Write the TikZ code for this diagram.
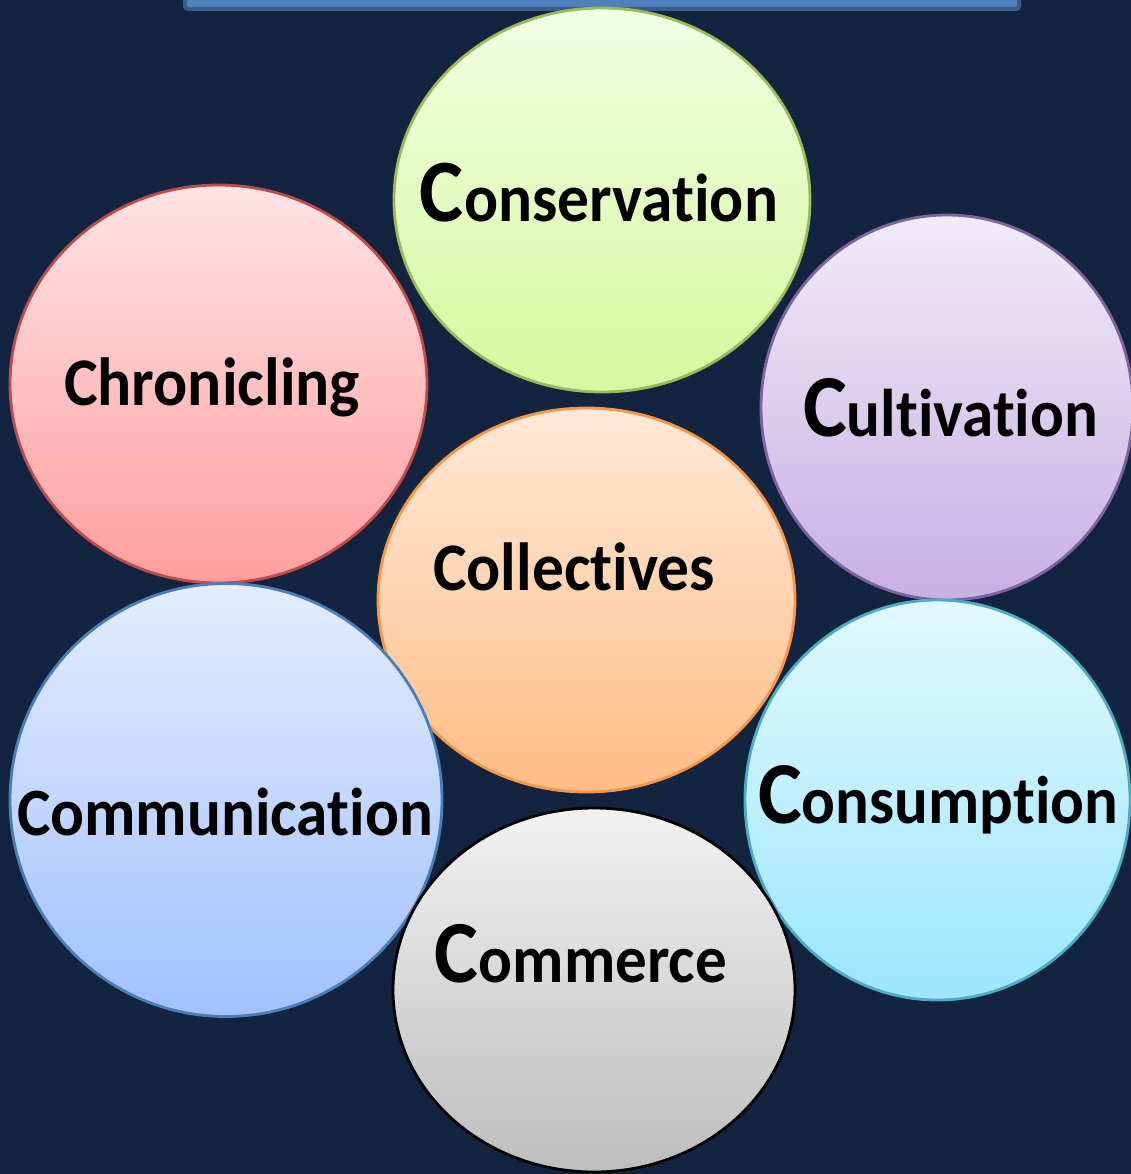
\documentclass[tikz,border=0pt]{standalone}
\usepackage{fontspec}
\setmainfont{Carlito}[Ligatures={NoCommon}]
\usepackage{graphicx}
\usetikzlibrary{shapes.geometric}
\definecolor{bg}{HTML}{12243F}
\definecolor{barfill}{HTML}{4F81BD}
\definecolor{barline}{HTML}{385D8A}
\definecolor{gTop}{HTML}{F1FFE4}
\definecolor{gBot}{HTML}{D6F99E}
\definecolor{gLine}{HTML}{9BBB59}
\definecolor{rTop}{HTML}{FFE4E6}
\definecolor{rBot}{HTML}{FF9E9E}
\definecolor{rLine}{HTML}{BE4B48}
\definecolor{pTop}{HTML}{F1EBF9}
\definecolor{pBot}{HTML}{C6B0E2}
\definecolor{pLine}{HTML}{7F63A1}
\definecolor{oTop}{HTML}{FFE9D8}
\definecolor{oBot}{HTML}{FFBD84}
\definecolor{oLine}{HTML}{F79646}
\definecolor{bTop}{HTML}{E3EDFF}
\definecolor{bBot}{HTML}{A2C1FF}
\definecolor{bLine}{HTML}{4A7EBB}
\definecolor{cTop}{HTML}{E2F9FF}
\definecolor{cBot}{HTML}{9DE6FC}
\definecolor{cLine}{HTML}{4BACC6}
\definecolor{kTop}{HTML}{F2F2F2}
\definecolor{kBot}{HTML}{BDBDBD}
\newcommand\bigC[1]{\scalebox{1}[1.07]{{\fontsize{84}{90}\selectfont C}{\fontsize{64}{70}\selectfont #1}}}
\newcommand\plainword[1]{\scalebox{1}[1.07]{\fontsize{64}{70}\selectfont #1}}
\begin{document}
\begin{tikzpicture}[x=1pt,y=-1pt,
  bubble/.style={ellipse, inner sep=0pt, line width=2.8pt},
  lbl/.style={anchor=base, inner sep=0pt, font=\bfseries, text=black}]
\useasboundingbox (0,0) rectangle (1131,1174);
\fill[bg] (0,0) rectangle (1131,1174);
% top banner (cut off)
\draw[fill=barfill, draw=barline, line width=4pt, rounded corners=3pt] (185,-20) rectangle (1019,9);
% bubbles
\node[bubble, draw=gLine, top color=gTop, bottom color=gBot, minimum width=416pt, minimum height=384pt] (conservation) at (602,200) {};
\node[bubble, draw=rLine, top color=rTop, bottom color=rBot, minimum width=417pt, minimum height=398pt] (chronicling) at (218.5,384) {};
\node[bubble, draw=pLine, top color=pTop, bottom color=pBot, minimum width=372pt, minimum height=385pt] (cultivation) at (947,407.5) {};
\node[bubble, draw=oLine, top color=oTop, bottom color=oBot, minimum width=417pt, minimum height=384pt] (collectives) at (586.5,600) {};
\node[bubble, draw=bLine, top color=bTop, bottom color=bBot, minimum width=432pt, minimum height=433pt] (communication) at (226,800) {};
\node[bubble, draw=cLine, top color=cTop, bottom color=cBot, minimum width=385pt, minimum height=400pt] (consumption) at (937.5,800) {};
\node[bubble, draw=black, top color=kTop, bottom color=kBot, minimum width=402pt, minimum height=364pt] (commerce) at (594,990) {};
% labels
\node[lbl] (tconservation) at (599,222) {\resizebox{358pt}{!}{\bigC{onservation}}};
\node[lbl] (tchronicling) at (212,405) {\resizebox{296pt}{!}{\plainword{Chronicling}}};
\node[lbl] (tcultivation) at (950.5,436) {\resizebox{295pt}{!}{\bigC{ultivation}}};
\node[lbl] (tcollectives) at (574,590) {\resizebox{282pt}{!}{\plainword{Collectives}}};
\node[lbl] (tcommunication) at (225,835) {\resizebox{416pt}{!}{\plainword{Communication}}};
\node[lbl] (tconsumption) at (938,823) {\resizebox{360pt}{!}{\bigC{onsumption}}};
\node[lbl] (tcommerce) at (581,982) {\resizebox{292pt}{!}{\bigC{ommerce}}};
\end{tikzpicture}
\end{document}
